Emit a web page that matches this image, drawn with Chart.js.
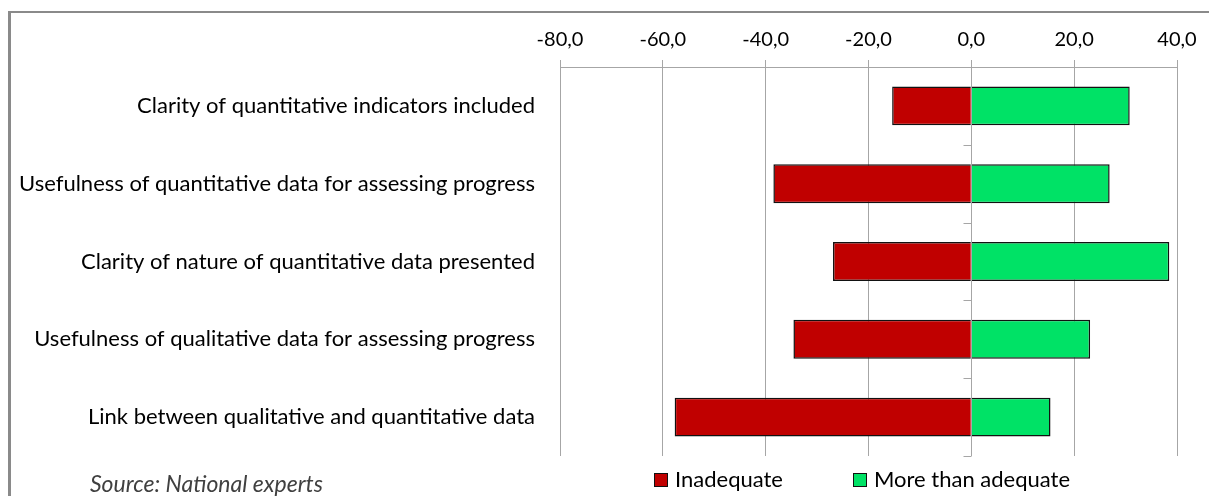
<!DOCTYPE html>
<html>
<head>
<meta charset="utf-8">
<script src="https://cdn.jsdelivr.net/npm/chart.js@4/dist/chart.umd.min.js"></script>
<style>
  html, body { margin: 0; padding: 0; background: #fff; overflow: hidden; }
  #wrap { position: relative; width: 1209px; height: 496px; }
  #frame { position: absolute; left: 8px; top: 11px; width: 1300px; height: 600px;
           border-left: 3px solid #8a8a8a; border-top: 2px solid #8a8a8a; pointer-events: none; }
  canvas { position: absolute; left: 0; top: 0; }
</style>
</head>
<body>
<div id="wrap">
  <canvas id="chart" width="1209" height="496"></canvas>
  <div id="frame"></div>
</div>
<script>
// Categories (top to bottom) and the two stacked series
const categories = [
  'Clarity of quantitative indicators included',
  'Usefulness of quantitative data for assessing progress',
  'Clarity of nature of quantitative data presented',
  'Usefulness of qualitative data for assessing progress',
  'Link between qualitative and quantitative data'
];
const inadequate = [-15.4, -38.5, -26.9, -34.6, -57.7];
const moreThanAdequate = [30.8, 26.9, 38.5, 23.1, 15.4];
const seriesNames = ['Inadequate', 'More than adequate'];
const seriesColors = ['#C00000', '#00E266'];
const axisMin = -80, axisMax = 40, axisStep = 20;
const sourceNote = 'Source: National experts';

const FONT = 'Lato, Carlito, Calibri, sans-serif';
const GRID = '#a6a6a6';

// Zero axis drawn over the bars, with small ticks between categories
const zeroAxis = {
  id: 'zeroAxis',
  afterDatasetsDraw(chart) {
    const { ctx, scales: { x, y }, chartArea } = chart;
    const x0 = Math.round(x.getPixelForValue(0)) + 0.5;
    ctx.save();
    ctx.strokeStyle = GRID;
    ctx.lineWidth = 1;
    ctx.beginPath();
    ctx.moveTo(x0, chartArea.top);
    ctx.lineTo(x0, chartArea.bottom);
    for (let i = 0; i <= categories.length; i++) {
      const py = Math.round((y.getPixelForValue(i - 0.5))) + 0.5;
      ctx.moveTo(x0 - 8, py);
      ctx.lineTo(x0, py);
    }
    ctx.stroke();
    ctx.restore();
  }
};

// Legend row and source note under the plot
const footer = {
  id: 'footer',
  afterDraw(chart) {
    const { ctx } = chart;
    ctx.save();
    ctx.textBaseline = 'middle';
    ctx.font = '22px ' + FONT;
    const boxes = [654, 853];
    seriesNames.forEach((name, i) => {
      const bx = boxes[i];
      ctx.fillStyle = seriesColors[i];
      ctx.fillRect(bx, 473, 14, 14);
      ctx.strokeStyle = '#111';
      ctx.lineWidth = 1;
      ctx.strokeRect(bx + 0.5, 473.5, 13, 13);
      ctx.fillStyle = '#000';
      ctx.textAlign = 'left';
      ctx.fillText(name, bx + 21, 480);
    });
    ctx.font = 'italic 23px ' + FONT;
    ctx.fillStyle = '#404040';
    ctx.fillText(sourceNote, 90, 485);
    ctx.restore();
  }
};

new Chart(document.getElementById('chart'), {
  type: 'bar',
  data: {
    labels: categories,
    datasets: [
      { label: seriesNames[0], data: inadequate, backgroundColor: seriesColors[0],
        borderColor: '#111', borderWidth: 1.5 },
      { label: seriesNames[1], data: moreThanAdequate, backgroundColor: seriesColors[1],
        borderColor: '#111', borderWidth: 1.5 }
    ]
  },
  options: {
    indexAxis: 'y',
    responsive: false,
    animation: false,
    events: [],
    layout: { padding: { left: 0, right: 32, top: 0, bottom: 40 } },
    datasets: { bar: { categoryPercentage: 1, barPercentage: 0.5, borderSkipped: 'start' } },
    plugins: { legend: { display: false }, tooltip: { enabled: false } },
    scales: {
      x: {
        position: 'top',
        stacked: true,
        min: axisMin, max: axisMax,
        afterFit(s) { s.height = 67; },
        ticks: {
          stepSize: axisStep,
          color: '#000',
          font: { family: FONT, size: 20 },
          padding: 8,
          maxRotation: 0,
          callback: v => v.toFixed(1).replace('.', ',')
        },
        grid: { color: GRID, lineWidth: 1, tickLength: 7, drawTicks: true },
        border: { display: true, color: GRID, width: 1 }
      },
      y: {
        stacked: true,
        afterFit(s) { s.width = 560; },
        ticks: {
          color: '#000',
          font: { family: FONT, size: 22 },
          padding: 25
        },
        grid: { display: false, drawTicks: false },
        border: { display: false }
      }
    }
  },
  plugins: [zeroAxis, footer]
});
</script>
</body>
</html>
